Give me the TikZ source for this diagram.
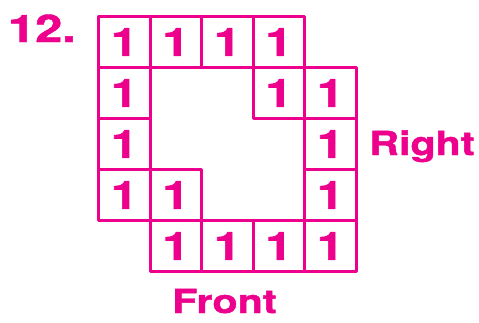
\documentclass[tikz,border=0pt]{standalone}
\usepackage{fontspec}
\setmainfont{TeX Gyre Heros}[BoldFeatures={FakeBold=1.2}]
\definecolor{mag}{HTML}{EC008C}
\begin{document}
\begin{tikzpicture}[x=1pt,y=-1pt,
  cell/.style={draw=mag, line width=3pt, line join=round, minimum width=51.5pt, minimum height=51pt,
    inner sep=0pt, text=mag, font=\fontsize{39}{39}\selectfont\bfseries, anchor=north west},
  lbl/.style={text=mag, inner sep=0pt, anchor=base west}]
\useasboundingbox (0,0) rectangle (479,322);
\foreach \c/\r in {0/0,1/0,2/0,3/0,0/1,3/1,4/1,0/2,4/2,0/3,1/3,4/3,1/4,2/4,3/4,4/4}{
  \node[cell] (cell-\c-\r) at ({97+51.5*\c},{15+51*\r}) {\scalebox{1.22}[1]{1}};
}
\node[lbl, font=\fontsize{38}{38}\selectfont\bfseries] (num) at (8,42) {\scalebox{1.28}[1]{12.}};
\node[lbl, font=\fontsize{33}{33}\selectfont\bfseries] (right) at (369,155) {\scalebox{1.25}[1]{Right}};
\node[lbl, font=\fontsize{33}{33}\selectfont\bfseries] (front) at (172,313) {\scalebox{1.25}[1]{Front}};
\end{tikzpicture}
\end{document}
